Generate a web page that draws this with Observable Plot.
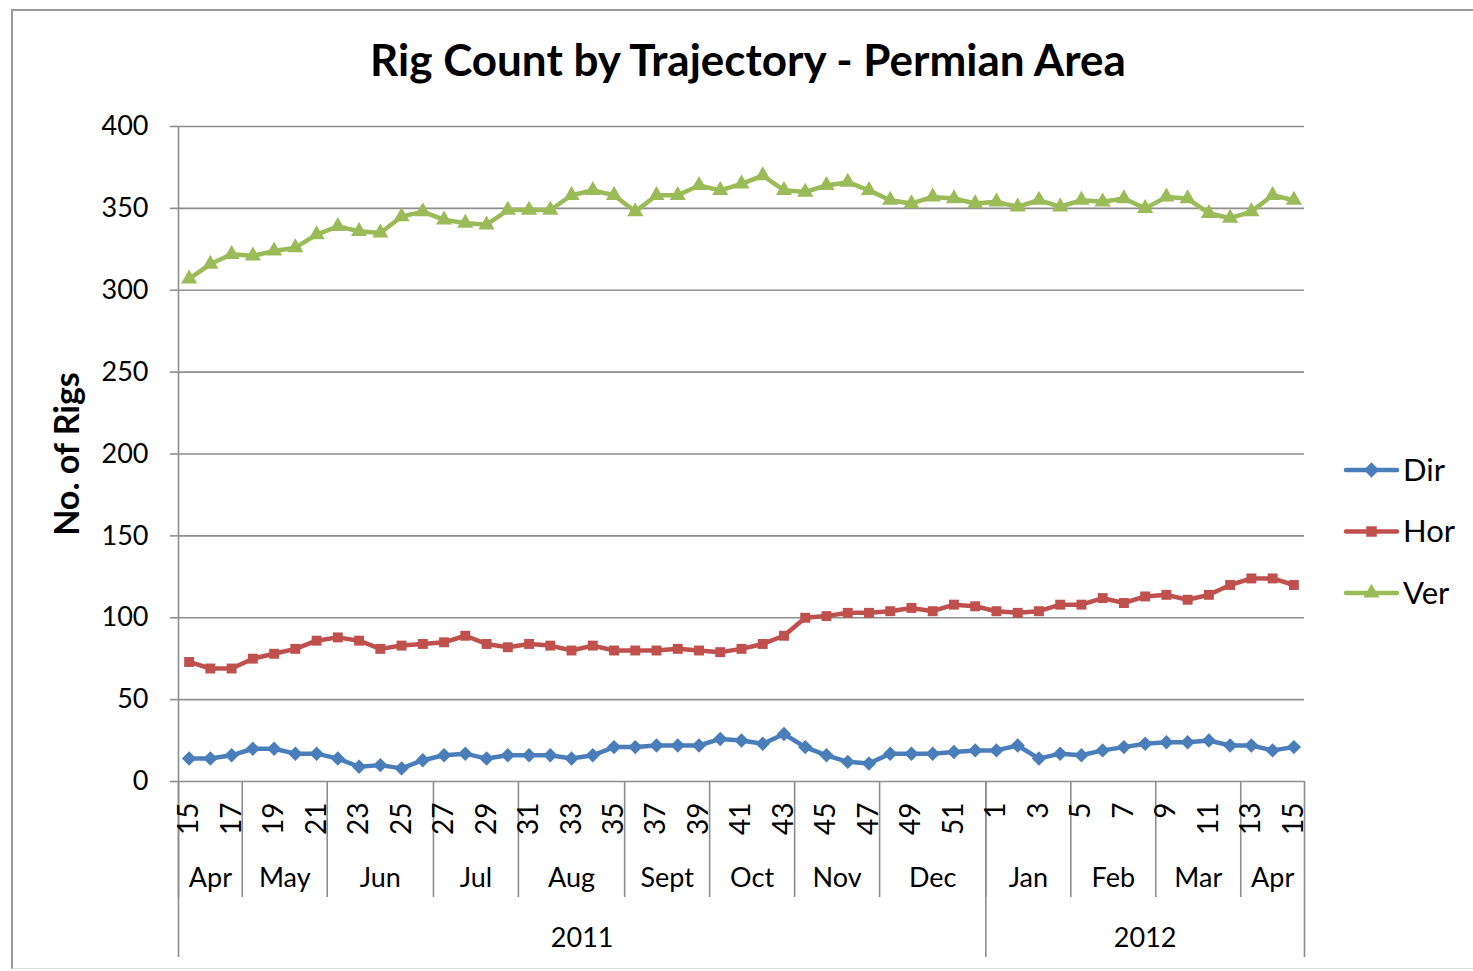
<!DOCTYPE html>
<html><head><meta charset="utf-8">
<script src="https://cdn.jsdelivr.net/npm/d3@7"></script>
<script src="https://cdn.jsdelivr.net/npm/@observablehq/plot@0.6"></script>
<style>
body{margin:0;background:#fff;font-family:Lato,"Open Sans",sans-serif;}
#page{position:relative;width:1473px;height:971px;overflow:hidden;background:#fff}
#frame{position:absolute;left:11px;top:9px;width:1480px;height:960px;border-left:2px solid #9a9a9a;border-top:2px solid #9a9a9a;border-bottom:1px solid #dcdcdc;box-sizing:border-box}
#title{position:absolute;left:0;width:1496px;top:33px;text-align:center;font-weight:bold;font-size:44px;color:#000}
#main{position:absolute;left:0;top:0}
#tiers{position:absolute;left:0;top:781px}
#legend{position:absolute;left:1340px;top:440px}
svg{overflow:visible}
</style></head>
<body><div id="page"><div id="frame"></div><div id="title">Rig Count by Trajectory - Permian Area</div><div id="main"></div><div id="tiers"></div><div id="legend"></div></div>
<script>
// ---- data ----
const weekLabels = [15,16,17,18,19,20,21,22,23,24,25,26,27,28,29,30,31,32,33,34,35,36,37,38,39,40,41,42,43,44,45,46,47,48,49,50,51,52,1,2,3,4,5,6,7,8,9,10,11,12,13,14,15];
const monthNames = ["Apr","May","Jun","Jul","Aug","Sept","Oct","Nov","Dec","Jan","Feb","Mar","Apr"];
const monthWeeks = [3,4,5,4,5,4,4,4,5,4,4,4,3];
const yearNames = ["2011","2012"];
const yearWeeks = [38,15];
const seriesNames = ["Dir","Hor","Ver"];
const seriesColors = ["#4a7ebb","#c0504d","#9bbb59"];
const seriesSymbols = ["diamond2","square","triangle"];
const dirValues = [14,14,16,20,20,17,17,14,9,10,8,13,16,17,14,16,16,16,14,16,21,21,22,22,22,26,25,23,29,21,16,12,11,17,17,17,18,19,19,22,14,17,16,19,21,23,24,24,25,22,22,19,21];
const horValues = [73,69,69,75,78,81,86,88,86,81,83,84,85,89,84,82,84,83,80,83,80,80,80,81,80,79,81,84,89,100,101,103,103,104,106,104,108,107,104,103,104,108,108,112,109,113,114,111,114,120,124,124,120];
const verValues = [307,316,322,321,324,326,334,339,336,335,345,348,343,341,340,349,349,349,358,361,358,348,358,358,364,361,365,370,361,360,364,366,361,355,353,357,356,353,354,351,355,351,355,354,356,350,357,356,347,344,348,358,355];
const yTicks = [0,50,100,150,200,250,300,350,400];

// ---- build tables ----
const n = weekLabels.length;
const allValues = [dirValues, horValues, verValues];
const rows = [];
seriesNames.forEach((s,k) => allValues[k].forEach((v,i) => rows.push({series:s, i, v})));
const weekRows = weekLabels.map((w,i) => ({i, label:String(w)}));
function groups(names, counts){
  let start = 0; const out = [];
  names.forEach((nm,j) => { out.push({name:nm, start:start-0.5, end:start+counts[j]-0.5, center:start+(counts[j]-1)/2}); start += counts[j]; });
  return out;
}
const monthRows = groups(monthNames, monthWeeks);
const yearRows = groups(yearNames, yearWeeks);
const monthBounds = monthRows.map(d => d.start);
const yearBounds = [yearRows[0].start, ...yearRows.map(d => d.end)];

const gridColor = "#8e8e8e";
const font = "Lato, 'Open Sans', sans-serif";

const marks = [
  Plot.ruleY(yTicks, {stroke: gridColor, strokeWidth: 1.6}),
  Plot.ruleX([-0.5], {stroke: gridColor, strokeWidth: 1.6}),
  Plot.axisY({ticks: yTicks, tickSize: 8, tickPadding: 22, fontSize: 27, stroke: gridColor, strokeWidth: 1.6, fill: "#000", label: null}),
  Plot.text(["No. of Rigs"], {frameAnchor: "left", textAnchor: "middle", dx: -110, rotate: -90, fontSize: 34, fontWeight: "bold", fill: "#000"})
];
seriesNames.forEach((s,k) => {
  const data = rows.filter(d => d.series === s);
  marks.push(Plot.line(data, {x: "i", y: "v", stroke: seriesColors[k], strokeWidth: 4.5, strokeLinejoin: "round"}));
});
seriesNames.forEach((s,k) => {
  const data = rows.filter(d => d.series === s);
  marks.push(Plot.dot(data, {x: "i", y: "v", fill: seriesColors[k], symbol: seriesSymbols[k], r: k === 0 ? 6.5 : k === 1 ? 5.6 : 6}));
});

const main = Plot.plot({
  width: 1473, height: 785,
  marginTop: 126, marginBottom: 4, marginLeft: 178, marginRight: 169,
  x: {domain: [-0.5, n - 0.5], axis: null},
  y: {domain: [0, 400], axis: null},
  style: {fontFamily: font, color: "#000", background: "transparent"},
  marks
});
document.getElementById("main").appendChild(main);

const tiers = Plot.plot({
  width: 1473, height: 180,
  marginTop: 0, marginBottom: 4, marginLeft: 178, marginRight: 169,
  x: {domain: [-0.5, n - 0.5], axis: null},
  y: {domain: [0, 176], range: [0, 176], axis: null},
  style: {fontFamily: font, color: "#000", background: "transparent"},
  marks: [
    Plot.ruleX(yearBounds, {x: d => d, y1: () => 0, y2: () => 176, stroke: gridColor, strokeWidth: 1.6}),
    Plot.ruleX(monthBounds, {x: d => d, y1: () => 0, y2: () => 116, stroke: gridColor, strokeWidth: 1.6}),
    Plot.text(weekRows.filter((d,i) => i % 2 === 0), {x: "i", y: () => 21, text: "label", rotate: -90, textAnchor: "end", fontSize: 28, fill: "#000"}),
    Plot.text(monthRows, {x: "center", y: () => 97, text: "name", fontSize: 27, fill: "#000"}),
    Plot.text(yearRows, {x: "center", y: () => 157, text: "name", fontSize: 27, fill: "#000"})
  ]
});
document.getElementById("tiers").appendChild(tiers);

// ---- legend ----
const leg = d3.create("svg").attr("width", 133).attr("height", 180).style("font-family", font);
const symMap = {diamond2: d3.symbolDiamond2, square: d3.symbolSquare, triangle: d3.symbolTriangle};
const symSize = [150, 110, 110];
seriesNames.forEach((s,k) => {
  const g = leg.append("g").attr("transform", `translate(0,${30 + k*61.5})`);
  g.append("line").attr("x1", 6).attr("x2", 57).attr("stroke", seriesColors[k]).attr("stroke-width", 4.5).attr("stroke-linecap", "round");
  g.append("path").attr("transform", "translate(31.5,0)").attr("d", d3.symbol(symMap[seriesSymbols[k]], symSize[k])()).attr("fill", seriesColors[k]);
  g.append("text").attr("x", 63).attr("dy", "0.35em").attr("font-size", 31).attr("fill", "#000").text(s);
});
document.getElementById("legend").appendChild(leg.node());
</script>
</body></html>
